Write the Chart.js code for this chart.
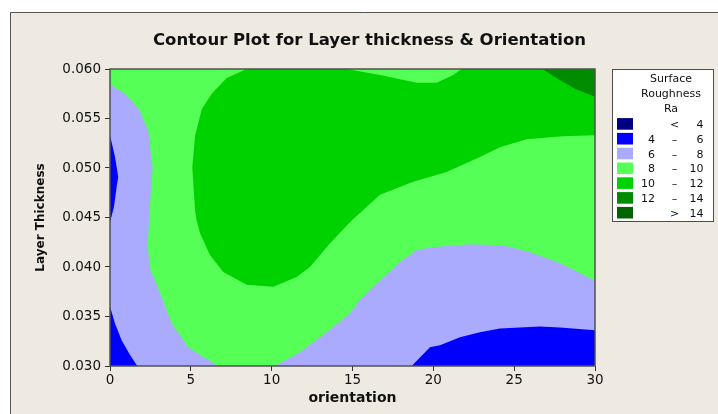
<!DOCTYPE html>
<html>
<head>
<meta charset="utf-8">
<script src="https://cdn.jsdelivr.net/npm/chart.js"></script>
<style>
html,body{margin:0;padding:0;background:#ffffff;}
#wrap{width:718px;height:414px;position:relative;}
</style>
</head>
<body>
<div id="wrap"><canvas id="c" width="718" height="414"></canvas></div>
<script>
// ---- tick values / labels ----
const orientationTicks = [0, 5, 10, 15, 20, 25, 30];
const orientationLabels = ['0', '5', '10', '15', '20', '25', '30'];
const thicknessTicks = [0.030, 0.035, 0.040, 0.045, 0.050, 0.055, 0.060];
const thicknessLabels = ['0.030', '0.035', '0.040', '0.045', '0.050', '0.055', '0.060'];

// ---- legend ----
const legendTitle = ['Surface', 'Roughness', 'Ra'];
const bandLow  = ['',  '4', '6', '8', '10', '12', ''];
const bandSign = ['<', '–', '–', '–', '–',  '–',  '>'];
const bandHigh = ['4', '6', '8', '10', '12', '14', '14'];

// ---- contour regions: [orientation, layer thickness] ----
const region6to8 = [[0, 0.030], [0, 0.060], [30, 0.060], [30, 0.030]];
const region8plus = [
  [0, 0.060], [0, 0.0584], [0.93, 0.0575], [1.81, 0.0559], [2.37, 0.0537], [2.64, 0.0500],
  [2.47, 0.0463], [2.33, 0.0422], [2.47, 0.0399], [3.09, 0.0374], [3.82, 0.0343], [4.84, 0.0319],
  [5.77, 0.0309], [6.70, 0.0300], [10.2, 0.0300], [11.75, 0.0314], [13.40, 0.0334], [14.84, 0.0353],
  [15.46, 0.0367], [17.93, 0.0405], [18.97, 0.0417], [19.89, 0.0420], [22.26, 0.0423], [24.32, 0.0422],
  [25.97, 0.0415], [27.83, 0.0404], [30, 0.0386], [30, 0.060]
];
const region10plus = [
  [8.45, 0.060], [7.22, 0.0591], [6.29, 0.0575], [5.67, 0.0559], [5.26, 0.0532], [5.09, 0.0501],
  [5.26, 0.0457], [5.36, 0.0447], [5.57, 0.0434], [6.18, 0.0412], [7.01, 0.0395], [8.45, 0.0382],
  [10.10, 0.0380], [11.55, 0.0390], [12.37, 0.0400], [13.61, 0.0424], [14.95, 0.0447], [16.70, 0.0473],
  [18.76, 0.0486], [20.82, 0.0496], [22.88, 0.0511], [24.12, 0.0521], [25.77, 0.0529], [28.03, 0.0532],
  [30, 0.0533], [30, 0.060], [21.75, 0.060], [21.23, 0.0594], [20.20, 0.0586], [18.97, 0.0586],
  [16.70, 0.0594], [14.64, 0.060]
];
const region12plus = [[26.75, 0.060], [27.7, 0.0590], [28.76, 0.0580], [30, 0.0572], [30, 0.060]];
const region4to6Left = [[0, 0.0533], [0.31, 0.0511], [0.51, 0.0491], [0.41, 0.0481], [0.25, 0.0461], [0, 0.0445]];
const region4to6BottomLeft = [[0, 0.0360], [0.31, 0.0343], [0.72, 0.0326], [1.24, 0.0311], [1.69, 0.0300], [0, 0.0300]];
const region4to6BottomRight = [
  [18.66, 0.0300], [19.79, 0.0319], [20.41, 0.0321], [21.65, 0.0329], [22.88, 0.0334], [24.12, 0.0338],
  [26.59, 0.0340], [27.83, 0.0339], [30, 0.0336], [30, 0.0300]
];

// ---- style ----
const palette = ['#000080', '#0000FF', '#AAAAFF', '#55FF55', '#00D200', '#008C00', '#006400'];
const layers = [
  [region6to8, 2], [region8plus, 3], [region10plus, 4], [region12plus, 5],
  [region4to6Left, 1], [region4to6BottomLeft, 1], [region4to6BottomRight, 1]
];
const FONT = '"DejaVu Sans", Verdana, sans-serif';

const datasets = layers.map(([pts, ci], i) => ({
  data: pts.map(p => ({x: p[0], y: p[1]})),
  showLine: true,
  fill: 'shape',
  backgroundColor: palette[ci],
  borderColor: palette[ci],
  borderWidth: 0,
  pointRadius: 0,
  pointHoverRadius: 0,
  pointHitRadius: 0,
  tension: 0,
  order: layers.length - i
}));

const framePlugin = {
  id: 'frame',
  beforeDraw(chart) {
    const ctx = chart.ctx, W = chart.width, H = chart.height;
    ctx.save();
    ctx.fillStyle = '#ffffff';
    ctx.fillRect(0, 0, W, H);
    ctx.fillStyle = '#EEEAE1';
    ctx.fillRect(10, 12, W - 10, H - 12);
    ctx.strokeStyle = '#555555';
    ctx.lineWidth = 1;
    ctx.beginPath();
    ctx.moveTo(10.5, H);
    ctx.lineTo(10.5, 12.5);
    ctx.lineTo(W, 12.5);
    ctx.stroke();
    ctx.restore();
  },
  afterDatasetsDraw(chart) {
    const ctx = chart.ctx, a = chart.chartArea;
    ctx.save();
    ctx.strokeStyle = '#505050';
    ctx.lineWidth = 1.5;
    ctx.strokeRect(a.left, a.top, a.right - a.left, a.bottom - a.top);
    ctx.restore();
  }
};

const legendPlugin = {
  id: 'contourLegend',
  afterDraw(chart) {
    const ctx = chart.ctx, a = chart.chartArea;
    const bx = Math.round(a.right) + 17.5, by = Math.round(a.top) + 0.5, bw = 101, bh = 152;
    ctx.save();
    ctx.fillStyle = '#ffffff';
    ctx.fillRect(bx, by, bw, bh);
    ctx.strokeStyle = '#4d4d4d';
    ctx.lineWidth = 1;
    ctx.strokeRect(bx, by, bw, bh);
    ctx.fillStyle = '#111111';
    ctx.font = '11px ' + FONT;
    ctx.textBaseline = 'alphabetic';
    ctx.textAlign = 'center';
    legendTitle.forEach((t, i) => ctx.fillText(t, bx + 58.5, by + 12.5 + i * 14.8));
    for (let i = 0; i < bandHigh.length; i++) {
      const cy = by + 54.4 + i * 14.8;
      ctx.fillStyle = palette[i];
      ctx.fillRect(bx + 4.5, cy - 5.8, 16, 11.6);
      ctx.fillStyle = '#111111';
      ctx.textAlign = 'right';
      if (bandLow[i]) ctx.fillText(bandLow[i], bx + 42.5, cy + 4);
      ctx.textAlign = 'center';
      ctx.fillText(bandSign[i], bx + 62, cy + 4);
      ctx.textAlign = 'right';
      ctx.fillText(bandHigh[i], bx + 91, cy + 4);
    }
    ctx.restore();
  }
};

new Chart(document.getElementById('c'), {
  type: 'scatter',
  data: {datasets},
  options: {
    responsive: false,
    animation: false,
    events: [],
    layout: {padding: {left: 21, right: 0, top: 0, bottom: 0}},
    plugins: {
      legend: {display: false},
      tooltip: {enabled: false},
      title: {
        display: true,
        text: 'Contour Plot for Layer thickness & Orientation',
        color: '#111111',
        font: {family: FONT, size: 16.5, weight: 'bold'},
        padding: {top: 31, bottom: 18.2}
      }
    },
    scales: {
      x: {
        type: 'linear',
        min: 0, max: 30,
        afterBuildTicks: s => { s.ticks = orientationTicks.map(v => ({value: v})); },
        afterFit: s => { s.height = 48; },
        ticks: {
          color: '#111111', font: {family: FONT, size: 13.5}, padding: 1,
          maxRotation: 0, autoSkip: false,
          callback: (v, i) => orientationLabels[i]
        },
        grid: {display: true, drawOnChartArea: false, drawTicks: true, tickLength: 5, color: '#333333', tickColor: '#333333'},
        border: {display: false},
        title: {display: true, text: 'orientation', color: '#111111', font: {family: FONT, size: 14, weight: 'bold'}, padding: {top: 0, bottom: 7.2}}
      },
      y: {
        type: 'linear',
        position: 'left',
        min: 0.030, max: 0.060,
        afterBuildTicks: s => { s.ticks = thicknessTicks.map(v => ({value: v})); },
        afterFit: s => { s.width = 89; },
        ticks: {
          color: '#111111', font: {family: FONT, size: 13.5}, padding: 4, autoSkip: false,
          callback: (v, i) => thicknessLabels[i]
        },
        grid: {display: true, drawOnChartArea: false, drawTicks: true, tickLength: 5, color: '#333333', tickColor: '#333333'},
        border: {display: false},
        title: {display: true, text: 'Layer Thickness', color: '#111111', font: {family: FONT, size: 12, weight: 'bold'}, padding: {top: 12.8, bottom: 0}}
      },
      y2: {
        type: 'linear',
        position: 'right',
        display: true,
        grid: {display: false},
        border: {display: false},
        ticks: {display: false},
        afterFit: s => { s.width = 123; }
      }
    }
  },
  plugins: [framePlugin, legendPlugin]
});
</script>
</body>
</html>
